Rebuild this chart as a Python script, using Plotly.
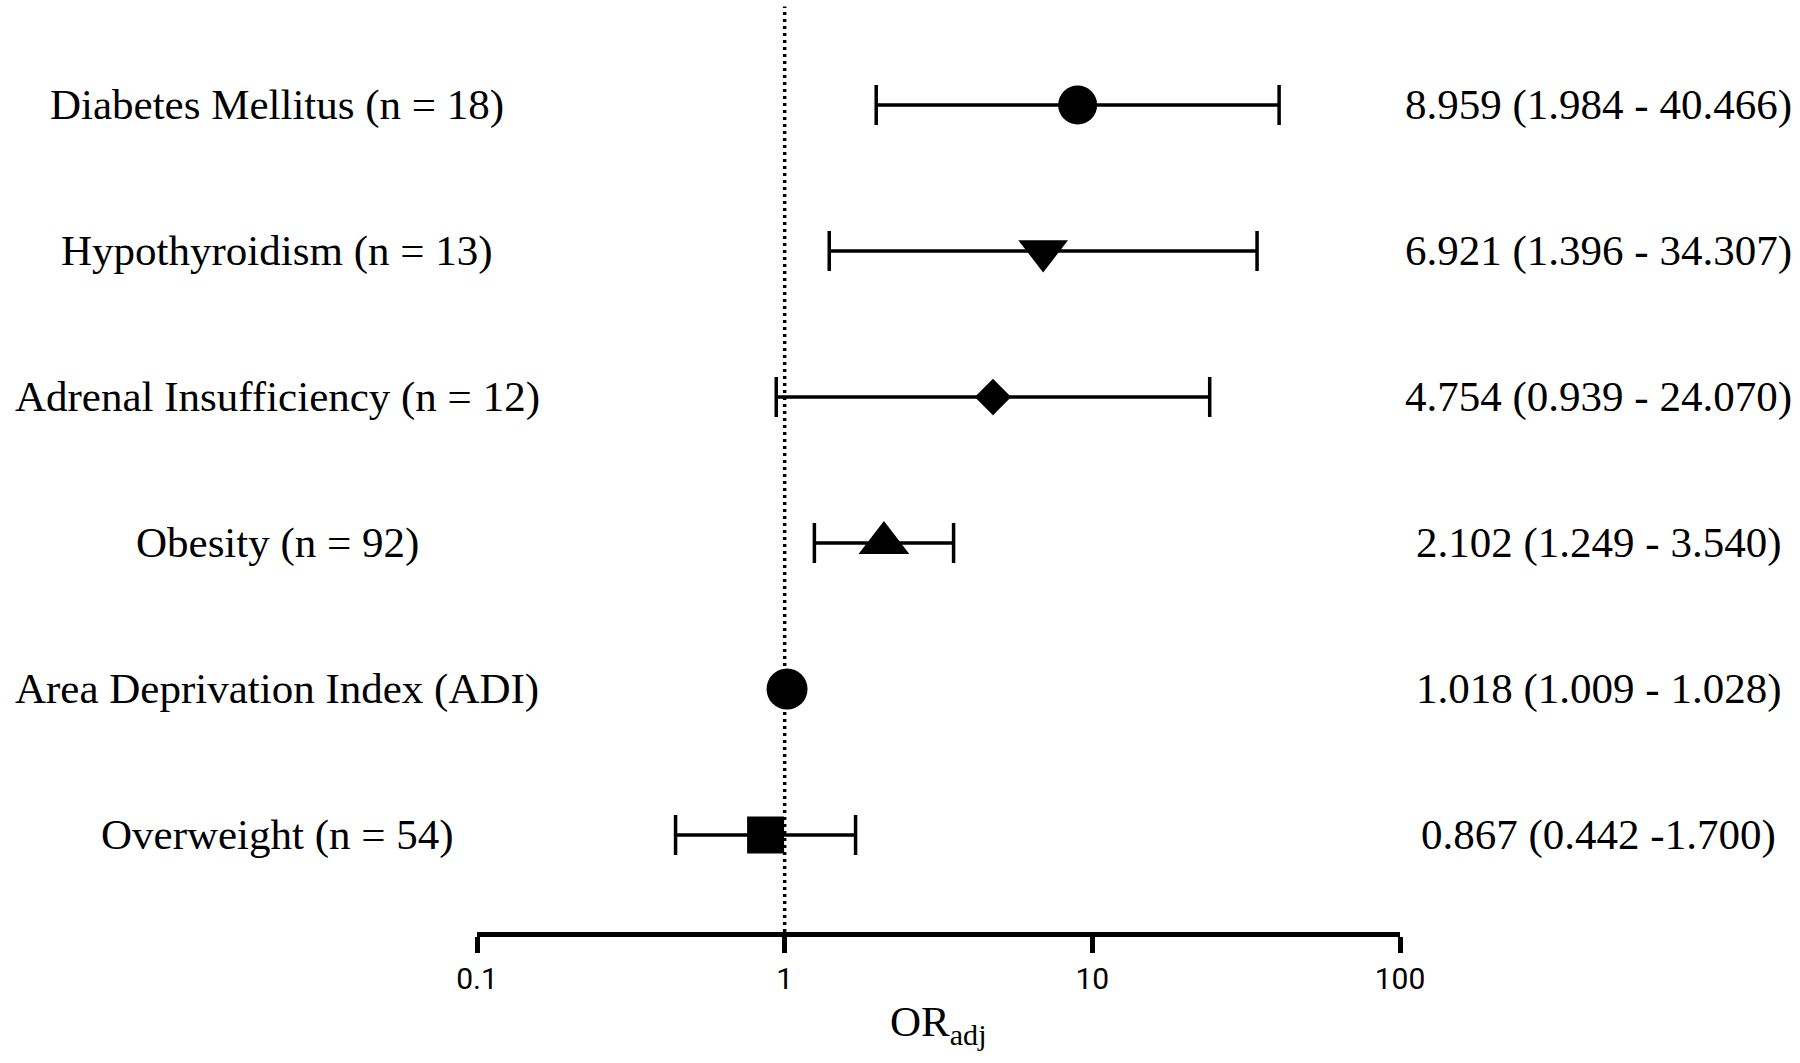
import plotly.graph_objects as go

# ---- data ----
labels = [
    "Diabetes Mellitus (n = 18)",
    "Hypothyroidism (n = 13)",
    "Adrenal Insufficiency (n = 12)",
    "Obesity (n = 92)",
    "Area Deprivation Index (ADI)",
    "Overweight (n = 54)",
]
or_adj = [8.959, 6.921, 4.754, 2.102, 1.018, 0.867]
ci_low = [1.984, 1.396, 0.939, 1.249, 1.009, 0.442]
ci_high = [40.466, 34.307, 24.070, 3.540, 1.028, 1.700]
ci_text = [
    "8.959 (1.984 - 40.466)",
    "6.921 (1.396 - 34.307)",
    "4.754 (0.939 - 24.070)",
    "2.102 (1.249 - 3.540)",
    "1.018 (1.009 - 1.028)",
    "0.867 (0.442 -1.700)",
]
symbols = ["circle", "triangle-down", "diamond", "triangle-up", "circle", "square"]
sizes = [39, 43, 28, 44, 41, 37]
tick_vals = [0.1, 1, 10, 100]
tick_text = ["0.1", "1", "10", "100"]
ref_value = 1

W, H = 1800, 1063
B = 131
n = len(labels)
ypos = list(range(n, 0, -1))  # top row first

serif = "Liberation Serif, Times New Roman, serif"
sans = "Roboto, Liberation Sans, sans-serif"

fig = go.Figure()

fig.add_trace(go.Scatter(
    x=or_adj, y=ypos, mode="markers",
    marker=dict(symbol=symbols, size=sizes, color="black", opacity=1, line=dict(width=0)),
    error_x=dict(
        type="data", symmetric=False,
        array=[h - o for h, o in zip(ci_high, or_adj)],
        arrayminus=[o - l for o, l in zip(or_adj, ci_low)],
        color="black", thickness=3.5, width=20,
    ),
    showlegend=False, hoverinfo="skip",
))

annotations = []
for lab, txt, y in zip(labels, ci_text, ypos):
    annotations.append(dict(
        x=277 / W, xref="paper", y=y, yref="y", text=lab, showarrow=False,
        xanchor="center", yanchor="middle", font=dict(family=serif, size=43, color="black"),
    ))
    annotations.append(dict(
        x=1598 / W, xref="paper", y=y, yref="y", text=txt, showarrow=False,
        xanchor="center", yanchor="middle", font=dict(family=serif, size=43, color="black"),
    ))

annotations.append(dict(
    x=0.5, xref="x domain", y=-0.1, yref="paper", text="OR<sub>adj</sub>",
    showarrow=False, xanchor="center", yanchor="middle",
    font=dict(family=serif, size=43, color="black"),
))

fig.update_layout(
    template="none",
    width=W, height=H,
    margin=dict(l=0, r=0, t=0, b=B, pad=0, autoexpand=False),
    paper_bgcolor="white", plot_bgcolor="white",
    xaxis=dict(
        type="log", range=[-1, 2], domain=[477 / W, 1400 / W],
        tickvals=tick_vals, ticktext=tick_text, automargin=False,
        showline=True, linewidth=5, linecolor="black",
        ticks="outside", ticklen=16, tickwidth=5, tickcolor="black",
        showgrid=False, zeroline=False,
        tickfont=dict(family=sans, size=30, color="black"),
    ),
    yaxis=dict(
        range=[0.336, 6.719], visible=False, showgrid=False, zeroline=False,
        automargin=False,
    ),
    shapes=[dict(
        type="line", xref="x", yref="paper", x0=ref_value, x1=ref_value,
        y0=0, y1=0.993, layer="below",
        line=dict(color="black", width=3.5, dash="3px,4px"),
    )],
    annotations=annotations,
)

fig.write_html(
    "out.html",
    config={"displayModeBar": False},
    post_script="document.body.style.margin='0';document.body.style.overflow='hidden';",
)
